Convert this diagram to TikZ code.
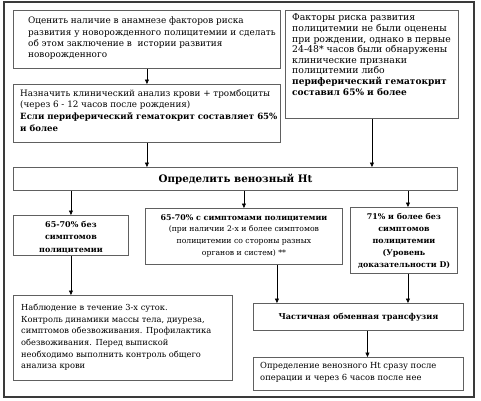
\documentclass[tikz,border=0pt]{standalone}
\usepackage{fontspec}
\setmainfont{DejaVu Serif}
\usetikzlibrary{arrows.meta,calc}
\definecolor{boxgray}{HTML}{606060}
\definecolor{framegray}{HTML}{3A3A3A}
\newcommand{\fsz}[2]{\fontsize{#1}{#2}\selectfont}
\begin{document}
\begin{tikzpicture}[x=1pt,y={(0pt,-1pt)},
  box/.style={draw=boxgray, line width=0.9pt, rectangle, anchor=north west, inner sep=0pt},
  txt/.style={anchor=north west, inner sep=0pt, align=left},
  ctxt/.style={anchor=north, inner sep=0pt, align=center},
  arr/.style={draw=black, line width=0.7pt, -{Triangle[length=4.5pt,width=4pt]}}]
\useasboundingbox (0,0) rectangle (481,400);
\draw[framegray, line width=1.6pt] (4,2) rectangle (474,397);
% boxes
\node[box, minimum width=267pt, minimum height=58pt] (b1) at (13,10) {};
\node[box, minimum width=173pt, minimum height=108pt] (b2) at (285,10) {};
\node[box, minimum width=267pt, minimum height=58pt] (b3) at (13,84) {};
\node[box, minimum width=444pt, minimum height=23pt] (ht) at (13,167) {};
\node[box, minimum width=115pt, minimum height=40pt] (lb) at (13,215) {};
\node[box, minimum width=197pt, minimum height=56pt] (mb) at (145,208) {};
\node[box, minimum width=107pt, minimum height=66pt] (rb) at (350,207) {};
\node[box, minimum width=219pt, minimum height=85pt] (bl) at (13,295) {};
\node[box, minimum width=210pt, minimum height=27pt] (tr) at (253,303) {};
\node[box, minimum width=210pt, minimum height=33pt] (ls) at (253,357) {};
% texts
\node[txt, font=\fsz{8.9}{11.3}] (t1) at (28,17) {Оценить наличие в анамнезе факторов риска\\развития у новорожденного полицитемии и сделать\\об этом заключение в\ \ истории развития\\новорожденного};
\node[txt, font=\fsz{9.3}{10.6}] (t2) at (292,14) {Факторы риска развития\\полицитемии не были оценены\\при рождении, однако в первые\\24-48* часов были обнаружены\\клинические признаки\\полицитемии либо\\{\bfseries\fsz{9.0}{10.6}периферический гематокрит}\\{\bfseries\fsz{9.0}{10.6}составил 65\% и более}};
\node[txt, font=\fsz{8.8}{11.8}] (t3) at (20,89) {Назначить клинический анализ крови + тромбоциты\\(через 6 - 12 часов после рождения)\\{\bfseries\fsz{8.6}{11.8}Если периферический гематокрит составляет 65\%}\\{\bfseries\fsz{8.6}{11.8}и более}};
\node[anchor=center, inner sep=0pt, font=\bfseries\fsz{10.3}{12}] (tht) at (ht.center) {Определить венозный Ht};
\node[ctxt, font=\bfseries\fsz{8.0}{12.3}] (tlb) at ($(lb.north)+(0,6)$) {65-70\% без\\симптомов\\полицитемии};
\node[ctxt, font=\fsz{7.7}{11.7}] (tmb) at ($(mb.north)+(0,6)$) {{\bfseries\fsz{7.9}{11.7}65-70\% с симптомами полицитемии}\\(при наличии 2-х и более симптомов\\полицитемии со стороны разных\\органов и систем) **};
\node[ctxt, font=\bfseries\fsz{7.9}{12}] (trb) at ($(rb.north)+(0,6)$) {71\% и более без\\симптомов\\полицитемии\\(Уровень\\доказательности D)};
\node[txt, font=\fsz{8.3}{11.6}] (tbl) at (21,304) {Наблюдение в течение 3-х суток.\\Контроль динамики массы тела, диуреза,\\симптомов обезвоживания. Профилактика\\обезвоживания. Перед выпиской\\необходимо выполнить контроль общего\\анализа крови};
\node[anchor=center, inner sep=0pt, font=\bfseries\fsz{8.1}{10}] (ttr) at (tr.center) {Частичная обменная трансфузия};
\node[txt, font=\fsz{8.4}{12}] (tls) at (260,362) {Определение венозного Ht сразу после\\операции и через 6 часов после нее};
% connectors
\draw[arr] (b1.south) -- (b3.north);
\draw[arr] (b3.south) -- (b3.south |- ht.north);
\draw[arr] (b2.south) -- (b2.south |- ht.north);
\draw[arr] (lb.north |- ht.south) -- (lb.north);
\draw[arr] (mb.north |- ht.south) -- (mb.north);
\draw[arr] ([xshift=4pt]rb.north |- ht.south) -- ([xshift=4pt]rb.north);
\draw[arr] (lb.south) -- (lb.south |- bl.north);
\draw[arr] ([xshift=33pt]mb.south) -- ([xshift=33pt]mb.south |- tr.north);
\draw[arr] ([xshift=4pt]rb.south) -- ([xshift=4pt]rb.south |- tr.north);
\draw[arr] ([xshift=9pt]tr.south) -- ([xshift=9pt]tr.south |- ls.north);
\end{tikzpicture}
\end{document}
